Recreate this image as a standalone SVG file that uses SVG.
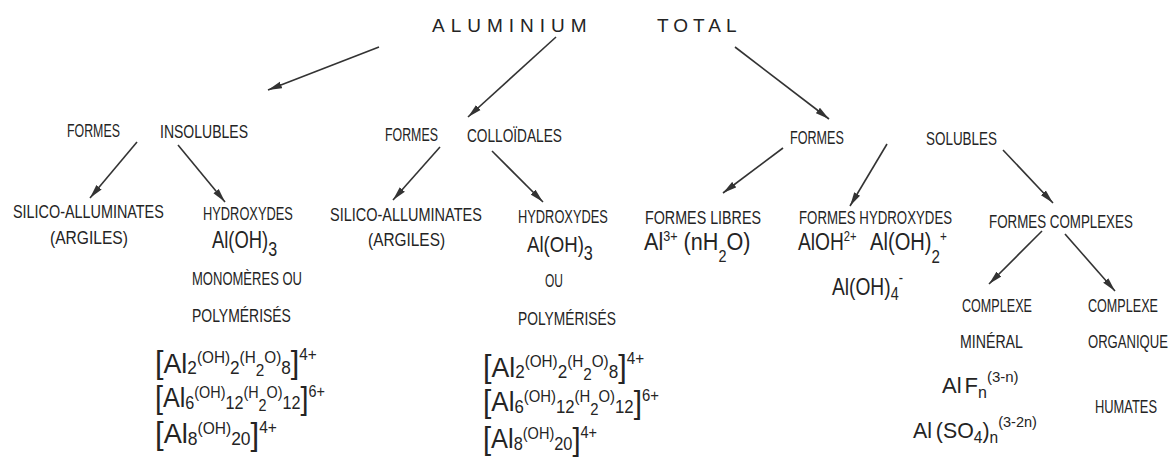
<svg xmlns="http://www.w3.org/2000/svg" width="1174" height="473" viewBox="0 0 1174 473">
<defs>
<style>
text{font-family:"Liberation Sans","DejaVu Sans",sans-serif;fill:#242424}
.l{font-size:18px}
.ttl{font-size:19px}
.conn line{stroke:#333;stroke-width:1.6;fill:none;marker-end:url(#ah)}
</style>
<marker id="ah" viewBox="0 0 14 8" refX="14" refY="4" markerWidth="14" markerHeight="8" orient="auto" markerUnits="userSpaceOnUse">
<path d="M0,0.6 L14,4 L0,7.4 z" fill="#333"/>
</marker>
</defs>
<rect width="1174" height="473" fill="#fff"/>

<g id="connectors" class="conn">
<line x1="379" y1="47" x2="268" y2="90"/>
<line x1="556" y1="37" x2="468" y2="117"/>
<line x1="735" y1="47" x2="829" y2="119"/>
<line x1="137" y1="142" x2="90" y2="198"/>
<line x1="178" y1="145" x2="225" y2="202"/>
<line x1="440" y1="147" x2="393" y2="200"/>
<line x1="492" y1="151" x2="543" y2="202"/>
<line x1="783" y1="148" x2="723" y2="193"/>
<line x1="887" y1="144" x2="850" y2="206"/>
<line x1="1003" y1="150" x2="1053" y2="203"/>
<line x1="1042" y1="231" x2="989" y2="284"/>
<line x1="1065" y1="234" x2="1115" y2="291"/>
</g>

<g id="aluminium-total">
<text class="ttl" x="432" y="32" letter-spacing="6">ALUMINIUM</text>
<text class="ttl" x="657" y="32" letter-spacing="5">TOTAL</text>
</g>

<g id="formes-insolubles">
<text class="l" transform="translate(67,137) scale(0.688,1)">FORMES</text>
<text class="l" transform="translate(160,138) scale(0.779,1)">INSOLUBLES</text>
</g>

<g id="formes-colloidales">
<text class="l" transform="translate(385,141) scale(0.688,1)">FORMES</text>
<text class="l" transform="translate(467,142) scale(0.76,1)">COLLOÏDALES</text>
</g>

<g id="formes-solubles">
<text class="l" transform="translate(790,144) scale(0.70,1)">FORMES</text>
<text class="l" transform="translate(926,145) scale(0.747,1)">SOLUBLES</text>
</g>

<g id="insol-silico">
<text class="l" transform="translate(13,218) scale(0.80,1)">SILICO-ALLUMINATES</text>
<text class="l" transform="translate(50,244) scale(0.867,1)">(ARGILES)</text>
</g>

<g id="insol-hydroxydes">
<text class="l" transform="translate(203,220) scale(0.714,1)">HYDROXYDES</text>
<text transform="translate(212,248) scale(0.80,1)"><tspan font-size="23">Al(OH)</tspan><tspan font-size="20" dy="8">3</tspan></text>
<text class="l" transform="translate(192,285) scale(0.724,1)">MONOMÈRES OU</text>
<text class="l" transform="translate(192,322) scale(0.775,1)">POLYMÉRISÉS</text>
<text transform="translate(155,373) scale(0.957,1)"><tspan font-size="32">[</tspan><tspan font-size="28">Al</tspan><tspan font-size="18" dy="1">2</tspan><tspan font-size="16" dy="-11">(OH)</tspan><tspan font-size="18" dy="11">2</tspan><tspan font-size="16" dy="-11">(H</tspan><tspan font-size="16" dy="13">2</tspan><tspan font-size="16" dy="-13">O)</tspan><tspan font-size="18" dy="11">8</tspan><tspan font-size="32" dy="-1">]</tspan><tspan font-size="16" dy="-13">4+</tspan></text>
<text transform="translate(155,408) scale(0.898,1)"><tspan font-size="32">[</tspan><tspan font-size="28" dy="-1">Al</tspan><tspan font-size="18" dy="2">6</tspan><tspan font-size="16" dy="-11">(OH)</tspan><tspan font-size="18" dy="11">12</tspan><tspan font-size="16" dy="-11">(H</tspan><tspan font-size="16" dy="13">2</tspan><tspan font-size="16" dy="-13">O)</tspan><tspan font-size="18" dy="11">12</tspan><tspan font-size="32" dy="0">]</tspan><tspan font-size="16" dy="-12">6+</tspan></text>
<text transform="translate(155,444) scale(0.971,1)"><tspan font-size="32">[</tspan><tspan font-size="28" dy="-1">Al</tspan><tspan font-size="18" dy="2">8</tspan><tspan font-size="16" dy="-11">(OH)</tspan><tspan font-size="18" dy="11">20</tspan><tspan font-size="32" dy="0">]</tspan><tspan font-size="16" dy="-12">4+</tspan></text>
</g>

<g id="coll-silico">
<text class="l" transform="translate(330,221) scale(0.805,1)">SILICO-ALLUMINATES</text>
<text class="l" transform="translate(368,246) scale(0.856,1)">(ARGILES)</text>
</g>

<g id="coll-hydroxydes">
<text class="l" transform="translate(518,223) scale(0.714,1)">HYDROXYDES</text>
<text transform="translate(527,252) scale(0.81,1)"><tspan font-size="23">Al(OH)</tspan><tspan font-size="20" dy="8">3</tspan></text>
<text class="l" transform="translate(545,287) scale(0.667,1)">OU</text>
<text class="l" transform="translate(518,325) scale(0.767,1)">POLYMÉRISÉS</text>
<text transform="translate(483,377) scale(0.952,1)"><tspan font-size="32">[</tspan><tspan font-size="28">Al</tspan><tspan font-size="18" dy="1">2</tspan><tspan font-size="16" dy="-11">(OH)</tspan><tspan font-size="18" dy="11">2</tspan><tspan font-size="16" dy="-11">(H</tspan><tspan font-size="16" dy="13">2</tspan><tspan font-size="16" dy="-13">O)</tspan><tspan font-size="18" dy="11">8</tspan><tspan font-size="32" dy="-1">]</tspan><tspan font-size="16" dy="-13">4+</tspan></text>
<text transform="translate(483,412) scale(0.93,1)"><tspan font-size="32">[</tspan><tspan font-size="28" dy="-1">Al</tspan><tspan font-size="18" dy="2">6</tspan><tspan font-size="16" dy="-11">(OH)</tspan><tspan font-size="18" dy="11">12</tspan><tspan font-size="16" dy="-11">(H</tspan><tspan font-size="16" dy="13">2</tspan><tspan font-size="16" dy="-13">O)</tspan><tspan font-size="18" dy="11">12</tspan><tspan font-size="32" dy="0">]</tspan><tspan font-size="16" dy="-12">6+</tspan></text>
<text transform="translate(483,449) scale(0.908,1)"><tspan font-size="32">[</tspan><tspan font-size="28" dy="-1">Al</tspan><tspan font-size="18" dy="2">8</tspan><tspan font-size="16" dy="-11">(OH)</tspan><tspan font-size="18" dy="11">20</tspan><tspan font-size="32" dy="0">]</tspan><tspan font-size="16" dy="-12">4+</tspan></text>
</g>

<g id="formes-libres">
<text class="l" transform="translate(645,224) scale(0.795,1)">FORMES LIBRES</text>
<text transform="translate(644,250) scale(0.9,1)"><tspan font-size="24">Al</tspan><tspan font-size="14" dy="-9">3+</tspan><tspan font-size="24" dy="9"> (n</tspan><tspan font-size="24">H</tspan><tspan font-size="16" dy="12">2</tspan><tspan font-size="24" dy="-12">O)</tspan></text>
</g>

<g id="formes-hydroxydes">
<text class="l" transform="translate(799,224) scale(0.736,1)">FORMES HYDROXYDES</text>
<text transform="translate(798,250) scale(0.8,1)"><tspan font-size="24">AlOH</tspan><tspan font-size="14" dy="-9">2+</tspan></text>
<text transform="translate(870,250) scale(0.84,1)"><tspan font-size="24">Al(OH)</tspan><tspan font-size="18" dy="13">2</tspan><tspan font-size="14" dy="-22">+</tspan></text>
<text transform="translate(832,295) scale(0.80,1)"><tspan font-size="24">Al(OH)</tspan><tspan font-size="18" dy="5">4</tspan><tspan font-size="16" dy="-17">-</tspan></text>
</g>

<g id="formes-complexes">
<text class="l" transform="translate(989,228) scale(0.742,1)">FORMES COMPLEXES</text>
</g>

<g id="complexe-mineral">
<text class="l" transform="translate(962,312) scale(0.70,1)">COMPLEXE</text>
<text class="l" transform="translate(960,348) scale(0.787,1)">MINÉRAL</text>
<text transform="translate(942,393)"><tspan font-size="22">Al</tspan><tspan font-size="22" dx="3">F</tspan><tspan font-size="16" dy="5">n</tspan><tspan font-size="15" dy="-16">(3-n)</tspan></text>
<text transform="translate(913,438) scale(0.97,1)"><tspan font-size="22">Al</tspan><tspan font-size="22" dx="4">(SO</tspan><tspan font-size="16" dy="5">4</tspan><tspan font-size="22" dy="-5">)</tspan><tspan font-size="16" dy="5">n</tspan><tspan font-size="15" dy="-16">(3-2n)</tspan></text>
</g>

<g id="complexe-organique">
<text class="l" transform="translate(1088,312) scale(0.70,1)">COMPLEXE</text>
<text class="l" transform="translate(1088,348) scale(0.727,1)">ORGANIQUE</text>
<text class="l" transform="translate(1095,413) scale(0.716,1)">HUMATES</text>
</g>
</svg>
